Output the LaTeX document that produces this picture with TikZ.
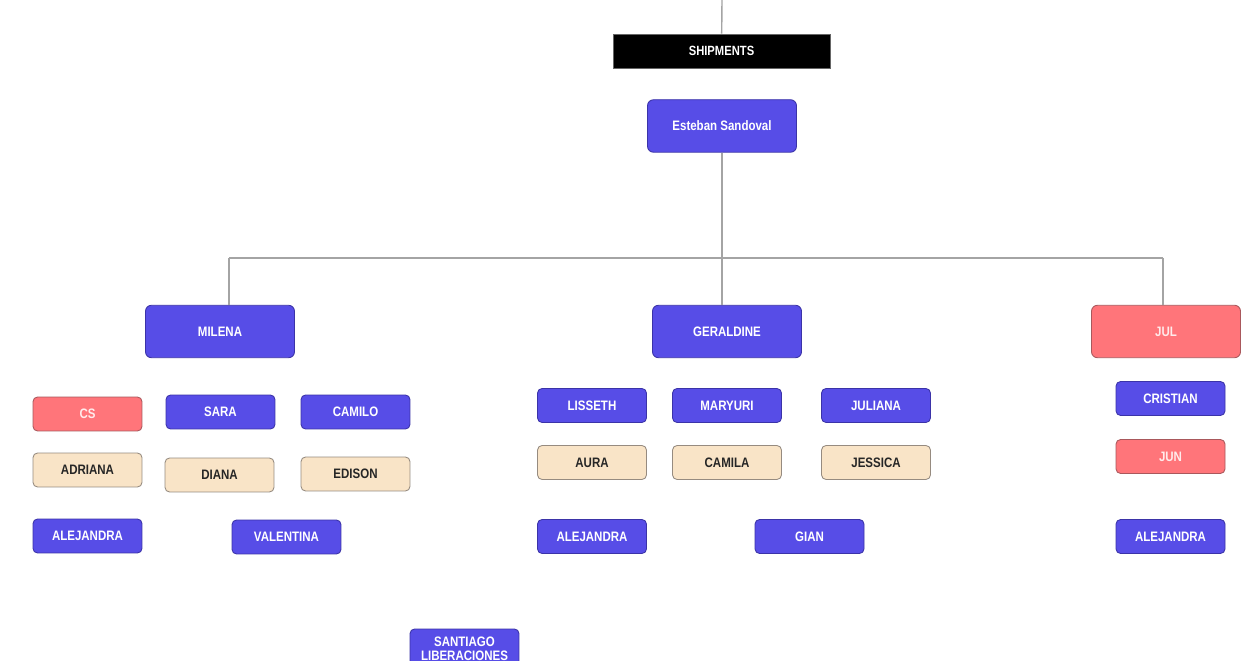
\documentclass[tikz,border=0pt]{standalone}
\usepackage{fontspec}
\newfontfamily\orgfont{Liberation Sans}[FakeStretch=0.84]
\definecolor{staffblue}{HTML}{574DE7}
\definecolor{staffblueline}{HTML}{3B33A8}
\definecolor{leadred}{HTML}{FF757A}
\definecolor{leadredline}{HTML}{A9585C}
\definecolor{traineebeige}{HTML}{F9E4C7}
\definecolor{traineeline}{HTML}{968B80}
\definecolor{linkgray}{HTML}{A4A4A4}
\tikzset{
  person/.style={rectangle, rounded corners=2.6pt, draw=staffblueline, line width=0.5pt,
    fill=staffblue, text=white, font=\orgfont\bfseries\fontsize{7.8}{8.5}\selectfont,
    minimum width=2.18cm, minimum height=0.68cm, inner sep=1pt},
  lead/.style={person, rounded corners=3.4pt, minimum width=2.98cm, minimum height=1.05cm},
  redbox/.style={fill=leadred, draw=leadredline, text=white!92!red},
  beigebox/.style={fill=traineebeige, draw=traineeline, text=black!85},
  link/.style={draw=linkgray, line width=0.8pt}
}
\begin{document}
\begin{tikzpicture}[x=0.02cm, y=-0.02cm]
  \useasboundingbox (0,0) rectangle (1256,661);
  \clip (0,0) rectangle (1256,661);
  \fill[white] (0,0) rectangle (1256,661);
  % Head
  \node (shipments) [rectangle, draw=black!60, line width=0.5pt, fill=black, text=white,
    font=\orgfont\bfseries\fontsize{7.6}{8}\selectfont,
    minimum width=4.34cm, minimum height=0.68cm] at (721.5, 51) {SHIPMENTS};
  \node (esteban) [lead] at (722, 126) {Esteban Sandoval};
  % Leads
  \node (milena) [lead] at (220, 331.5) {MILENA};
  \node (geraldine) [lead] at (727, 331.5) {GERALDINE};
  \node (jul) [lead, redbox] at (1166, 331.5) {JUL};
  % Milena team
  \node (cs) [person, redbox] at (87.5, 414) {CS};
  \node (sara) [person] at (220.5, 412) {SARA};
  \node (camilo) [person] at (355.5, 412) {CAMILO};
  \node (adriana) [person, beigebox] at (87.5, 470) {ADRIANA};
  \node (diana) [person, beigebox] at (219.5, 475) {DIANA};
  \node (edison) [person, beigebox] at (355.5, 474) {EDISON};
  \node (alejandra-m) [person] at (87.5, 536) {ALEJANDRA};
  \node (valentina) [person] at (286.5, 537) {VALENTINA};
  \node (santiago) [person, minimum height=0.8cm, align=center,
    font=\orgfont\bfseries\fontsize{7.8}{8}\selectfont] at (464.5, 649) {SANTIAGO\\LIBERACIONES};
  % Geraldine team
  \node (lisseth) [person] at (592, 405.5) {LISSETH};
  \node (maryuri) [person] at (727, 405.5) {MARYURI};
  \node (juliana) [person] at (876, 405.5) {JULIANA};
  \node (aura) [person, beigebox] at (592, 462.5) {AURA};
  \node (camila) [person, beigebox] at (727, 462.5) {CAMILA};
  \node (jessica) [person, beigebox] at (876, 462.5) {JESSICA};
  \node (alejandra-g) [person] at (592, 536.5) {ALEJANDRA};
  \node (gian) [person] at (809.5, 536.5) {GIAN};
  % Jul team
  \node (cristian) [person] at (1170.5, 398.5) {CRISTIAN};
  \node (jun) [person, redbox] at (1170.5, 456.5) {JUN};
  \node (alejandra-j) [person] at (1170.5, 536.5) {ALEJANDRA};
  % Lines
  \coordinate (top) at (722, 0);
  \coordinate (bar) at (722, 258);
  \coordinate (barleft) at (229, 258);
  \coordinate (barright) at (1163, 258);
  \draw[link] (top) -- (shipments);
  \draw[link] (esteban) -- (bar);
  \draw[link] (barleft) -- (barright);
  \draw[link] (barleft) -- (barleft |- milena.north);
  \draw[link] (bar) -- (bar |- geraldine.north);
  \draw[link] (barright) -- (barright |- jul.north);
\end{tikzpicture}
\end{document}
